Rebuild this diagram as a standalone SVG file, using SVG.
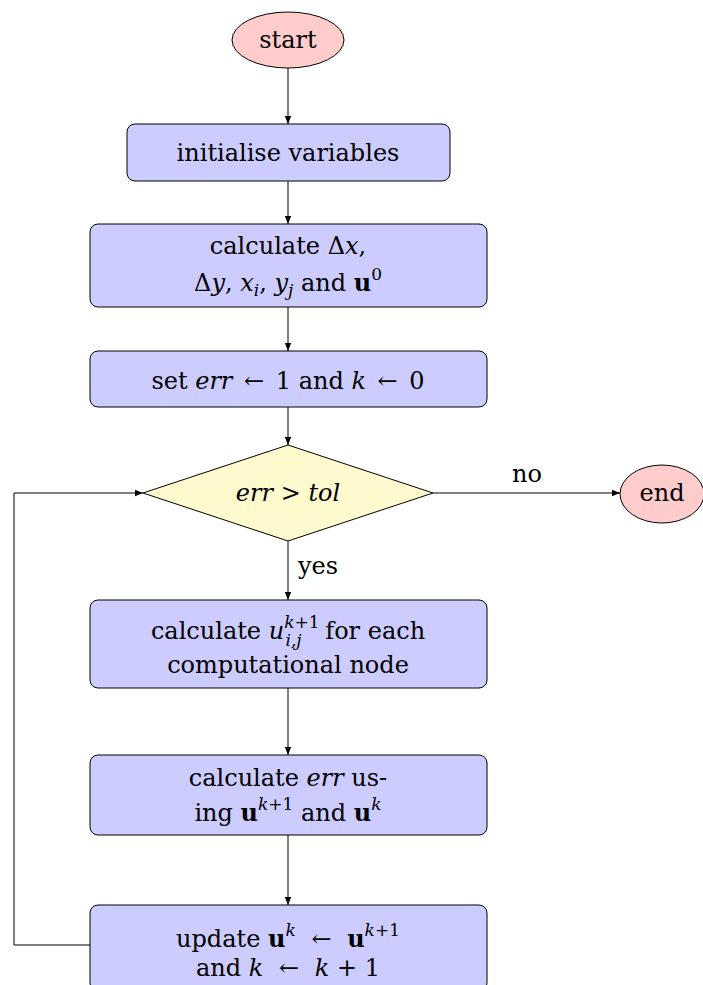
<svg xmlns="http://www.w3.org/2000/svg" width="703" height="985" viewBox="0 0 703 985" font-family="'DejaVu Serif', serif">
<defs>
<marker id="arr" viewBox="0 0 10 10" refX="10" refY="5" markerWidth="8" markerHeight="8" markerUnits="userSpaceOnUse" orient="auto">
<path d="M0,1 L10,5 L0,9 Z" fill="#000"/>
</marker>
</defs>
<style>
text{font-family:'DejaVu Serif',serif;font-size:24px;fill:#000;text-anchor:middle}
.i{font-style:italic}
.b{font-weight:bold}
.s{font-size:17px}
.term{fill:#ffcccc;stroke:#000;stroke-width:1}
.proc{fill:#ccccff;stroke:#000;stroke-width:1}
.dec{fill:#fffacd;stroke:#000;stroke-width:1}
.c path{fill:none;stroke:#000;stroke-width:1;marker-end:url(#arr)}
</style>
<g class="c" id="connectors">
<path d="M288,68 V124"/>
<path d="M288,181 V224"/>
<path d="M288,307 V351"/>
<path d="M288,407 V445"/>
<path d="M433,493 H620"/>
<path d="M288,541 V600"/>
<path d="M288,688 V755"/>
<path d="M288,835 V905"/>
<path d="M90,945 H14 V493 H143"/>
</g>
<g id="start">
<ellipse class="term" cx="288" cy="40" rx="56" ry="28"/>
<text x="288" y="48">start</text>
</g>
<g id="init">
<rect class="proc" x="127" y="124" width="323" height="57" rx="8"/>
<text x="288" y="161">initialise variables</text>
</g>
<g id="calc">
<rect class="proc" x="90" y="224" width="397" height="83" rx="8"/>
<text x="288" y="254">calculate Δ<tspan class="i">x</tspan>,</text>
<text x="288" y="291">Δ<tspan class="i">y</tspan>, <tspan class="i">x</tspan><tspan class="i s" dy="5">i</tspan><tspan dy="-5">, </tspan><tspan class="i">y</tspan><tspan class="i s" dy="5">j</tspan><tspan dy="-5"> and </tspan><tspan class="b">u</tspan><tspan class="s" dy="-11">0</tspan></text>
</g>
<g id="set">
<rect class="proc" x="90" y="351" width="397" height="56" rx="8"/>
<text x="288" y="389">set <tspan class="i">err</tspan> <tspan dx="4">←</tspan> <tspan dx="4">1 and </tspan><tspan class="i">k</tspan> <tspan dx="4">←</tspan> <tspan dx="4">0</tspan></text>
</g>
<g id="decision">
<polygon class="dec" points="288,445 433,493 288,541 143,493"/>
<text x="288" y="501"><tspan class="i">err</tspan> &gt; <tspan class="i">tol</tspan></text>
</g>
<g id="end">
<ellipse class="term" cx="662" cy="494" rx="42" ry="29"/>
<text x="662" y="501">end</text>
</g>
<g id="labels">
<text x="527" y="482">no</text>
<text x="318" y="574">yes</text>
</g>
<g id="calcu">
<rect class="proc" x="90" y="600" width="397" height="88" rx="8"/>
<text x="288" y="639">calculate <tspan class="i">u</tspan><tspan class="i s" dy="-11">k</tspan><tspan class="s">+1</tspan><tspan class="i s" dx="-34" dy="18">i,j</tspan><tspan dx="16" dy="-7"> for each</tspan></text>
<text x="288" y="673">computational node</text>
</g>
<g id="calcerr">
<rect class="proc" x="90" y="755" width="397" height="80" rx="8"/>
<text x="288" y="786">calculate <tspan class="i">err</tspan> us-</text>
<text x="288" y="821">ing <tspan class="b">u</tspan><tspan class="s" dy="-11"><tspan class="i">k</tspan>+1</tspan><tspan dy="11"> and </tspan><tspan class="b">u</tspan><tspan class="i s" dy="-11">k</tspan></text>
</g>
<g id="update">
<rect class="proc" x="90" y="905" width="397" height="86" rx="8"/>
<text x="288" y="947">update <tspan class="b">u</tspan><tspan class="i s" dy="-11">k</tspan> <tspan dx="8" dy="11">←</tspan> <tspan class="b" dx="8">u</tspan><tspan class="s" dy="-11"><tspan class="i">k</tspan>+1</tspan></text>
<text x="288" y="976">and <tspan class="i">k</tspan> <tspan dx="8">←</tspan> <tspan class="i" dx="8">k</tspan> + 1</text>
</g>
</svg>
